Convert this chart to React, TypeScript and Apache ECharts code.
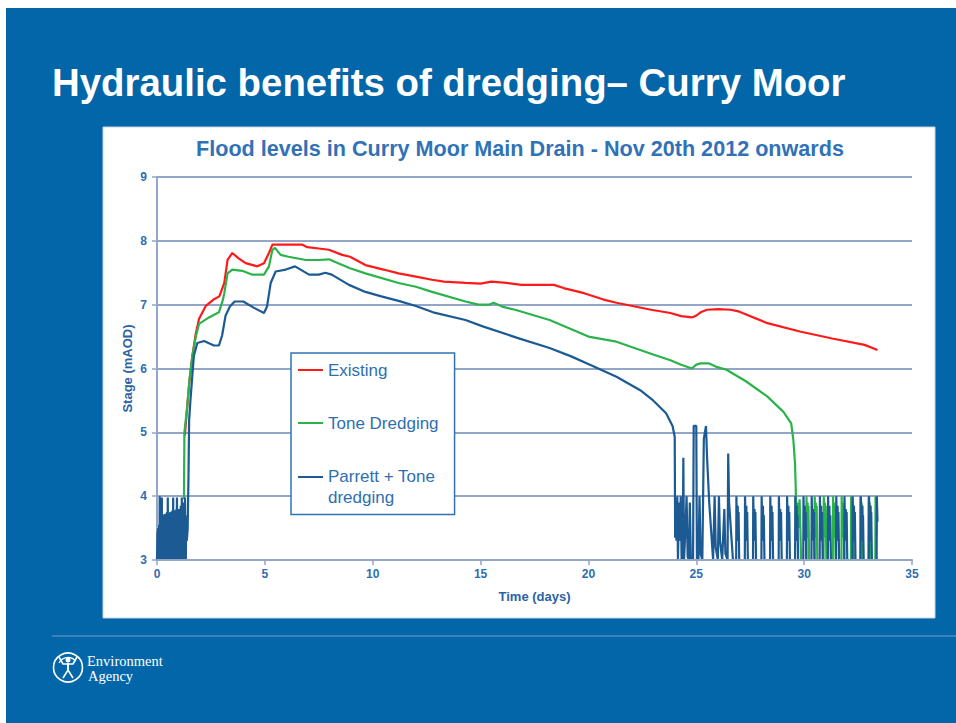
import React, { useEffect, useRef } from "react";
import * as echarts from "echarts";

const slideTitle = "Hydraulic benefits of dredging– Curry Moor";
const chartTitle = "Flood levels in Curry Moor Main Drain - Nov 20th 2012 onwards";
const seriesNames = ["Existing", "Tone Dredging", "Parrett + Tone\ndredging"];
const seriesColors = ["#FF1A1A", "#2BB34B", "#1B5A93"];
const xAxisName = "Time (days)";
const yAxisName = "Stage (mAOD)";
const logoLines = ["Environment", "Agency"];

const existing: number[][] = [
  [1.29, 4.95], [1.4, 5.4], [1.5, 5.8], [1.64, 6.2], [1.8, 6.55], [1.95, 6.78], [2.26, 6.98],
  [2.62, 7.08], [2.89, 7.13], [3.12, 7.34], [3.27, 7.7], [3.49, 7.81], [3.8, 7.72], [4.11, 7.65],
  [4.65, 7.6], [4.96, 7.65], [5.19, 7.81], [5.35, 7.94], [6.0, 7.94], [6.74, 7.94], [6.97, 7.9],
  [7.5, 7.88], [7.97, 7.86], [8.58, 7.78], [8.95, 7.75], [9.66, 7.62], [10.5, 7.55], [11.2, 7.49],
  [12.0, 7.44], [12.75, 7.39], [13.3, 7.36], [14.3, 7.34], [15.0, 7.33], [15.5, 7.36], [16.2, 7.34],
  [16.9, 7.31], [18.4, 7.31], [18.85, 7.26], [19.8, 7.18], [20.7, 7.08], [21.3, 7.03], [22.9, 6.92],
  [23.8, 6.87], [24.3, 6.82], [24.8, 6.8], [25.0, 6.83], [25.2, 6.88], [25.5, 6.92], [26.0, 6.93],
  [26.6, 6.92], [27.0, 6.89], [28.3, 6.71], [29.8, 6.58], [31.3, 6.47], [32.8, 6.37], [33.4, 6.29],
];

const toneDredging: number[][] = [
  [1.25, 3.95], [1.27, 5.0], [1.4, 5.4], [1.5, 5.8], [1.64, 6.2], [1.8, 6.5], [1.95, 6.7],
  [2.41, 6.8], [2.87, 6.88], [3.05, 7.07], [3.12, 7.18], [3.27, 7.49], [3.49, 7.55], [3.95, 7.53],
  [4.42, 7.47], [4.96, 7.47], [5.19, 7.6], [5.35, 7.86], [5.47, 7.89], [5.73, 7.78], [6.1, 7.75],
  [6.9, 7.7], [7.5, 7.7], [7.97, 7.71], [8.4, 7.65], [8.95, 7.57], [9.66, 7.49], [11.2, 7.34],
  [12.0, 7.28], [12.75, 7.2], [14.3, 7.05], [14.9, 7.0], [15.4, 7.0], [15.6, 7.03], [16.0, 6.97],
  [16.6, 6.92], [18.2, 6.76], [20.0, 6.5], [21.3, 6.42], [23.0, 6.22], [23.8, 6.13], [24.3, 6.06],
  [24.8, 6.0], [25.0, 6.06], [25.2, 6.08], [25.6, 6.08], [25.9, 6.03], [26.4, 5.98], [27.3, 5.8],
  [28.3, 5.56], [29.04, 5.32], [29.4, 5.14], [29.5, 4.88], [29.58, 4.5], [29.62, 4.0], [29.65, 3.3],
  [29.69, 3.9], [29.74, 3.5], [29.79, 3.95], [29.86, 3.0],
  [30.1, 3.0], [30.11, 4.0], [30.14, 3.4], [30.16, 3.9], [30.18, 3.35], [30.2, 3.85], [30.23, 3.0],
  [30.48, 3.0], [30.49, 4.0], [30.52, 3.4], [30.54, 3.9], [30.56, 3.35], [30.58, 3.85], [30.61, 3.0],
  [30.9, 3.0], [30.91, 4.0], [30.94, 3.4], [30.96, 3.9], [30.98, 3.35], [31.0, 3.85], [31.03, 3.0],
  [31.33, 3.0], [31.34, 4.0], [31.37, 3.4], [31.39, 3.9], [31.41, 3.35], [31.43, 3.85], [31.46, 3.0],
  [31.73, 3.0], [31.74, 4.0], [31.77, 3.4], [31.79, 3.9], [31.81, 3.35], [31.83, 3.85], [31.86, 3.0],
  [32.17, 3.0], [32.18, 4.0], [32.21, 3.4], [32.23, 3.9], [32.25, 3.35], [32.27, 3.85], [32.3, 3.0],
  [32.6, 3.0], [32.61, 4.0], [32.64, 3.4], [32.66, 3.9], [32.68, 3.35], [32.7, 3.85], [32.73, 3.0],
  [32.98, 3.0], [32.99, 4.0], [33.02, 3.4], [33.04, 3.9], [33.06, 3.35], [33.08, 3.85], [33.11, 3.0],
  [33.3, 3.0], [33.31, 4.0], [33.36, 3.4],
];

const parrettTone: number[][] = [
  [0.0, 3.0], [0.0125, 3.0], [0.025, 3.45], [0.0375, 3.0], [0.05, 3.5], [0.0625, 3.0], [0.075, 3.5],
  [0.0875, 3.0], [0.1, 3.55], [0.1125, 3.0], [0.125, 4.0], [0.1375, 3.0], [0.15, 3.6], [0.1625, 3.0],
  [0.175, 3.62], [0.1875, 3.0], [0.2, 3.65], [0.2125, 3.0], [0.225, 3.98], [0.2375, 3.0], [0.25, 3.68],
  [0.2625, 3.0], [0.275, 3.7], [0.2875, 3.0], [0.3, 3.7], [0.3125, 3.0], [0.325, 3.7], [0.3375, 3.0],
  [0.35, 3.72], [0.3625, 3.0], [0.375, 3.72], [0.3875, 3.0], [0.4, 3.7], [0.4125, 3.0], [0.425, 3.72],
  [0.4375, 3.0], [0.45, 3.74], [0.4625, 3.0], [0.475, 3.75], [0.4875, 3.0], [0.5, 3.98], [0.5125, 3.0],
  [0.525, 3.72], [0.5375, 3.0], [0.55, 3.72], [0.5625, 3.0], [0.575, 3.74], [0.5875, 3.0], [0.6, 3.72],
  [0.6125, 3.0], [0.625, 3.75], [0.6375, 3.0], [0.65, 3.75], [0.6625, 3.0], [0.675, 3.76], [0.6875, 3.0],
  [0.7, 3.75], [0.7125, 3.0], [0.725, 3.78], [0.7375, 3.0], [0.75, 3.98], [0.7625, 3.0], [0.775, 3.76],
  [0.7875, 3.0], [0.8, 3.78], [0.8125, 3.0], [0.825, 3.76], [0.8375, 3.0], [0.85, 3.75], [0.8625, 3.0],
  [0.875, 3.78], [0.8875, 3.0], [0.9, 3.8], [0.9125, 3.0], [0.925, 3.98], [0.9375, 3.0], [0.95, 3.8],
  [0.9625, 3.0], [0.975, 3.8], [0.9875, 3.0], [1.0, 3.8], [1.0125, 3.0], [1.025, 3.78], [1.0375, 3.0],
  [1.05, 3.8], [1.0625, 3.0], [1.075, 3.8], [1.0875, 3.0], [1.1, 3.85], [1.1125, 3.0], [1.125, 3.85],
  [1.1375, 3.0], [1.15, 3.98], [1.1625, 3.0], [1.175, 3.85], [1.1875, 3.0], [1.2, 3.85], [1.2125, 3.0],
  [1.225, 3.88], [1.2375, 3.0], [1.25, 3.9], [1.2625, 3.0], [1.275, 3.9], [1.2875, 3.0], [1.3, 3.98],
  [1.3125, 3.0], [1.325, 3.7], [1.3375, 3.0], [1.35, 3.6], [1.38, 3.3], [1.42, 3.47],
  [1.46, 4.3], [1.49, 5.2], [1.55, 5.5], [1.64, 5.9], [1.71, 6.2], [1.87, 6.4], [2.18, 6.43],
  [2.64, 6.36], [2.87, 6.36], [3.02, 6.52], [3.18, 6.83], [3.38, 6.97], [3.6, 7.05], [4.0, 7.05],
  [4.5, 6.95], [4.96, 6.87], [5.1, 6.97], [5.27, 7.34], [5.5, 7.52], [5.97, 7.55], [6.4, 7.6],
  [7.05, 7.47], [7.5, 7.47], [7.8, 7.5], [8.1, 7.47], [8.9, 7.31], [9.66, 7.2], [10.4, 7.13],
  [11.2, 7.06], [12.0, 6.98], [12.8, 6.88], [14.3, 6.76], [15.1, 6.66], [16.7, 6.48], [18.2, 6.32],
  [19.2, 6.19], [20.07, 6.06], [21.3, 5.87], [22.4, 5.66], [23.0, 5.5], [23.6, 5.3], [23.9, 5.1],
  [24.0, 4.93], [24.02, 3.35], [24.05, 3.9], [24.08, 3.3], [24.12, 4.0], [24.15, 3.0], [24.2, 3.9],
  [24.24, 3.3], [24.28, 4.0], [24.32, 3.0], [24.37, 3.0], [24.4, 4.6], [24.43, 3.0], [24.5, 3.5],
  [24.55, 4.0], [24.6, 3.05], [24.66, 3.0], [24.7, 3.9], [24.75, 3.0], [24.85, 3.0], [24.88, 5.1],
  [25.0, 5.1], [25.03, 3.0], [25.1, 3.0], [25.15, 4.0], [25.2, 3.1], [25.28, 3.0], [25.35, 4.9],
  [25.45, 5.1], [25.5, 4.6], [25.6, 3.9], [25.7, 3.4], [25.78, 3.0], [25.85, 4.0], [25.9, 3.2],
  [26.0, 3.0], [26.05, 4.0], [26.1, 3.3], [26.2, 3.0], [26.3, 3.8], [26.35, 3.1], [26.45, 3.0],
  [26.48, 4.67], [26.52, 3.9], [26.7, 3.0],
  [26.85, 3.0], [26.86, 4.0], [26.88, 4.0], [26.9, 3.3], [26.92, 3.85], [26.94, 3.35], [26.96, 3.75], [26.99, 3.0],
  [27.25, 3.0], [27.26, 4.0], [27.28, 4.0], [27.3, 3.3], [27.32, 3.85], [27.34, 3.35], [27.36, 3.75], [27.39, 3.0],
  [27.63, 3.0], [27.64, 4.0], [27.66, 4.0], [27.68, 3.3], [27.7, 3.8], [27.72, 3.35], [27.74, 3.75], [27.77, 3.0],
  [28.02, 3.0], [28.03, 4.0], [28.05, 4.0], [28.07, 3.3], [28.09, 3.85], [28.11, 3.35], [28.13, 3.7], [28.16, 3.0],
  [28.42, 3.0], [28.43, 4.0], [28.45, 4.0], [28.47, 3.3], [28.49, 3.85], [28.51, 3.35], [28.53, 3.75], [28.56, 3.0],
  [28.82, 3.0], [28.83, 4.0], [28.85, 4.0], [28.87, 3.3], [28.89, 3.8], [28.91, 3.35], [28.93, 3.75], [28.96, 3.0],
  [29.2, 3.0], [29.21, 4.0], [29.23, 4.0], [29.25, 3.3], [29.27, 3.85], [29.29, 3.35], [29.31, 3.75], [29.34, 3.0],
  [29.58, 3.0], [29.59, 4.0], [29.61, 4.0], [29.63, 3.3], [29.65, 3.85], [29.67, 3.35], [29.69, 3.7], [29.72, 3.0],
  [29.96, 3.0], [29.97, 4.0], [29.99, 4.0], [30.01, 3.3], [30.03, 3.85], [30.05, 3.35], [30.07, 3.75], [30.1, 3.0],
  [30.34, 3.0], [30.35, 4.0], [30.37, 4.0], [30.39, 3.3], [30.41, 3.8], [30.43, 3.35], [30.45, 3.75], [30.48, 3.0],
  [30.72, 3.0], [30.73, 4.0], [30.75, 4.0], [30.77, 3.3], [30.79, 3.85], [30.81, 3.35], [30.83, 3.75], [30.86, 3.0],
  [31.1, 3.0], [31.11, 4.0], [31.13, 4.0], [31.15, 3.3], [31.17, 3.85], [31.19, 3.35], [31.21, 3.7], [31.24, 3.0],
  [31.48, 3.0], [31.49, 4.0], [31.51, 4.0], [31.53, 3.3], [31.55, 3.85], [31.57, 3.35], [31.59, 3.75], [31.62, 3.0],
  [31.86, 3.0], [31.87, 4.0], [31.89, 4.0], [31.91, 3.3], [31.93, 3.8], [31.95, 3.35], [31.97, 3.75], [32.0, 3.0],
  [32.24, 3.0], [32.25, 4.0], [32.27, 4.0], [32.29, 3.3], [32.31, 3.85], [32.33, 3.35], [32.35, 3.75], [32.38, 3.0],
  [32.62, 3.0], [32.63, 4.0], [32.65, 4.0], [32.67, 3.3], [32.69, 3.85], [32.71, 3.35], [32.73, 3.7], [32.76, 3.0],
  [33.0, 3.0], [33.01, 4.0], [33.03, 4.0], [33.05, 3.3], [33.07, 3.85], [33.09, 3.35], [33.11, 3.75], [33.14, 3.0],
  [33.36, 3.0], [33.37, 4.0], [33.4, 3.6],
];

const seriesData = [existing, toneDredging, parrettTone];

const LINE_ICON = "path://M0,0 L25,0 Z M0,9.5 L25,9.5 L25,11.5 L0,11.5 Z M0,21 L25,21 Z";
const TOP_LINE_ICON = "path://M0,0 L25,0 L25,2 L0,2 Z M0,21 L25,21 Z";

export default function App() {
  const ref = useRef<HTMLDivElement>(null);

  useEffect(() => {
    if (!ref.current) return;
    const chart = echarts.init(ref.current, undefined, { renderer: "svg" });
    const axisBlue = "#2F6DB0";
    const gridColor = "#93A5C8";

    const option: any = {
      animation: false,
      backgroundColor: "#ffffff",
      title: {
        text: chartTitle,
        left: 196,
        top: 137,
        padding: 0,
        textStyle: {
          fontFamily: "Liberation Sans, Arial, sans-serif",
          fontSize: 21.6,
          fontWeight: "bold",
          color: "#3172B7",
        },
      },
      legend: {
        orient: "vertical",
        left: 291,
        top: 353,
        padding: [6.5, 16, 7, 7],
        itemGap: 32,
        itemWidth: 25,
        itemHeight: 21,
        selectedMode: false,
        borderColor: "#2E74B5",
        borderWidth: 1.5,
        backgroundColor: "#ffffff",
        itemStyle: { borderWidth: 0 },
        textStyle: {
          fontFamily: "Liberation Sans, Arial, sans-serif",
          fontSize: 17,
          lineHeight: 21,
          color: "#2E6FB2",
        },
        data: seriesNames.map((n, i) => ({
          name: n,
          icon: i === 2 ? TOP_LINE_ICON : LINE_ICON,
          itemStyle: { color: seriesColors[i], borderWidth: 0 },
        })),
      },
      grid: { left: 157, right: 44, top: 177, bottom: 163, containLabel: false },
      xAxis: {
        type: "value",
        min: 0,
        max: 35,
        interval: 5,
        z: 10,
        name: xAxisName,
        nameLocation: "middle",
        nameGap: 30,
        nameTextStyle: {
          fontFamily: "Liberation Sans, Arial, sans-serif",
          fontSize: 13,
          fontWeight: "bold",
          color: "#2A62A4",
        },
        axisLine: { show: true, lineStyle: { color: gridColor, width: 2 } },
        axisTick: { show: true, length: 5, lineStyle: { color: gridColor, width: 1.5 } },
        axisLabel: {
          margin: 8,
          fontFamily: "Liberation Sans, Arial, sans-serif",
          fontSize: 12,
          fontWeight: "bold",
          color: axisBlue,
        },
        splitLine: { show: false },
      },
      yAxis: {
        type: "value",
        min: 3,
        max: 9,
        interval: 1,
        name: yAxisName,
        nameLocation: "middle",
        nameGap: 23,
        nameMoveOverlap: false,
        nameTextStyle: {
          fontFamily: "Liberation Sans, Arial, sans-serif",
          fontSize: 13,
          fontWeight: "bold",
          color: "#2A62A4",
        },
        axisLine: { show: true, lineStyle: { color: gridColor, width: 2 } },
        axisTick: { show: true, length: 5, lineStyle: { color: gridColor, width: 1.5 } },
        axisLabel: {
          margin: 10,
          fontFamily: "Liberation Sans, Arial, sans-serif",
          fontSize: 12,
          fontWeight: "bold",
          color: axisBlue,
        },
        splitLine: { show: true, lineStyle: { color: gridColor, width: 1.8 } },
      },
      series: seriesNames.map((n, i) => ({
        name: n,
        type: "line",
        data: seriesData[i],
        showSymbol: false,
        symbol: "none",
        lineStyle: { color: seriesColors[i], width: 2.2 },
        itemStyle: { color: seriesColors[i] },
        z: 2 + i,
      })),
      graphic: [
        {
          type: "rect",
          z: -20,
          shape: { x: 6, y: 8, width: 950, height: 715 },
          style: { fill: "#0366A8" },
        },
        {
          type: "rect",
          z: -19,
          shape: { x: 103, y: 127, width: 832, height: 491 },
          style: { fill: "#ffffff", stroke: "#C4D4E4", lineWidth: 1 },
        },
        {
          type: "line",
          z: -19,
          shape: { x1: 52, y1: 636, x2: 956, y2: 636 },
          style: { stroke: "#4F8DC4", lineWidth: 1.5 },
        },
        {
          type: "text",
          z: -18,
          x: 52,
          y: 82.5,
          style: {
            text: slideTitle,
            fill: "#ffffff",
            font: "bold 38.4px 'Liberation Sans', Arial, sans-serif",
            textAlign: "left",
            textVerticalAlign: "middle",
          },
        },
        {
          type: "circle",
          z: -18,
          shape: { cx: 68, cy: 667.5, r: 14.5 },
          style: { fill: "none", stroke: "#ffffff", lineWidth: 1.6 },
        },
        {
          type: "arc",
          z: -18,
          shape: { cx: 68, cy: 667.5, r: 10, startAngle: 3.6, endAngle: 5.6 },
          style: { fill: "none", stroke: "#ffffff", lineWidth: 1.3 },
        },
        {
          type: "circle",
          z: -18,
          shape: { cx: 68, cy: 660, r: 2.5 },
          style: { fill: "#ffffff" },
        },
        {
          type: "polyline",
          z: -18,
          shape: { points: [[59, 657], [63, 664], [73, 664], [77, 657]] },
          style: { fill: "none", stroke: "#ffffff", lineWidth: 1.6 },
        },
        {
          type: "polyline",
          z: -18,
          shape: { points: [[63, 678], [68, 670], [73, 678]] },
          style: { fill: "none", stroke: "#ffffff", lineWidth: 1.6 },
        },
        {
          type: "line",
          z: -18,
          shape: { x1: 68, y1: 663, x2: 68, y2: 671 },
          style: { stroke: "#ffffff", lineWidth: 2 },
        },
        {
          type: "text",
          z: -18,
          x: 87,
          y: 660.5,
          style: {
            text: logoLines[0],
            fill: "#ffffff",
            font: "14.5px 'Liberation Serif', 'Times New Roman', serif",
            textVerticalAlign: "middle",
          },
        },
        {
          type: "text",
          z: -18,
          x: 88,
          y: 676,
          style: {
            text: logoLines[1],
            fill: "#ffffff",
            font: "14.5px 'Liberation Serif', 'Times New Roman', serif",
            textVerticalAlign: "middle",
          },
        },
      ],
    };

    chart.setOption(option);
    return () => {
      chart.dispose();
    };
  }, []);

  return (
    <div
      ref={ref}
      style={{ position: "absolute", left: 0, top: 0, width: 956, height: 723, background: "#fff" }}
    />
  );
}
